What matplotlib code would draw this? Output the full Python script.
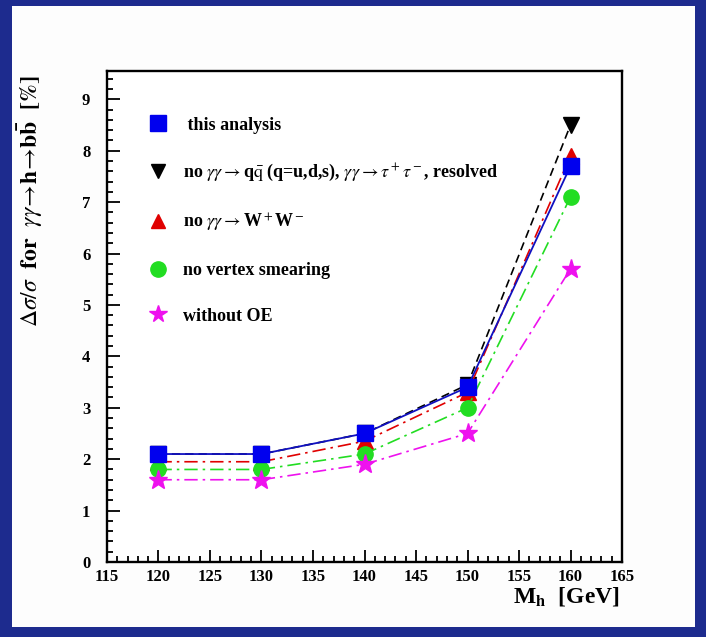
import matplotlib
matplotlib.use("Agg")
import matplotlib.pyplot as plt
from matplotlib.lines import Line2D
from matplotlib.patches import Rectangle
from matplotlib.ticker import MultipleLocator

plt.rcParams['font.family'] = ['Liberation Serif', 'DejaVu Serif']
plt.rcParams['mathtext.fontset'] = 'stix'

# Higgs masses [GeV]
mh = [120, 130, 140, 150, 160]

# relative error dsigma/sigma [%] for the five scenarios
this_analysis = [2.1, 2.1, 2.5, 3.4, 7.7]
no_qq_tau = [2.1, 2.1, 2.5, 3.45, 8.5]
no_ww = [1.95, 1.95, 2.35, 3.3, 7.9]
no_vertex = [1.8, 1.8, 2.1, 3.0, 7.1]
without_oe = [1.6, 1.6, 1.9, 2.5, 5.7]

labels = [
    " this analysis",
    r"no $\gamma\gamma\rightarrow$q$\bar{\rm q}$ (q=u,d,s), $\gamma\gamma\rightarrow\tau^+\tau^-$, resolved",
    r"no $\gamma\gamma\rightarrow$W$^+$W$^-$",
    "no vertex smearing",
    "without OE",
]

fig = plt.figure(figsize=(7.06, 6.37), dpi=100)
fig.patch.set_facecolor('#1d2b8e')
# white slide panel
fig.patches.append(Rectangle((12/706, 10/637), (695-12)/706, (631-10)/637,
                             transform=fig.transFigure, facecolor='#fdfdfd',
                             edgecolor='none', zorder=-10))

ax = fig.add_axes([107/706, 75/637, 515/706, 491/637])
ax.set_facecolor('white')

ax.plot(mh, no_qq_tau, color='black', linestyle=(0, (5, 3)), lw=1.2,
        marker='v', markersize=11, zorder=2)
ax.plot(mh, no_ww, color='#e00000', linestyle=(0, (8, 3, 1.5, 3)), lw=1.2,
        marker='^', markersize=11, zorder=3)
ax.plot(mh, no_vertex, color='#22dd22', linestyle=(0, (8, 3, 1.5, 3)), lw=1.2,
        marker='o', markersize=11, zorder=4)
ax.plot(mh, without_oe, color='#ee11ee', linestyle=(0, (8, 3, 1.5, 3)), lw=1.2,
        marker='*', markersize=14, zorder=5)
ax.plot(mh, this_analysis, color='#1010c0', linestyle='-', lw=1.3,
        marker='s', markerfacecolor='#0000ee', markeredgecolor='#0000ee',
        markersize=12, zorder=6)

handles = [
    Line2D([], [], linestyle='None', marker='s', color='#0000ee', markersize=12),
    Line2D([], [], linestyle='None', marker='v', color='black', markersize=10),
    Line2D([], [], linestyle='None', marker='^', color='#e00000', markersize=10),
    Line2D([], [], linestyle='None', marker='o', color='#22dd22', markersize=11),
    Line2D([], [], linestyle='None', marker='*', color='#ee11ee', markersize=13),
]
ax.legend(handles, labels, loc='upper left', bbox_to_anchor=(0.05, 0.94),
          frameon=False, handlelength=1.0, handletextpad=0.9, labelspacing=1.57,
          prop={'family': 'Liberation Serif', 'weight': 'bold', 'size': 13})

ax.set_xlim(115, 165)
ax.set_ylim(0, 9.55)
ax.xaxis.set_major_locator(MultipleLocator(5))
ax.xaxis.set_minor_locator(MultipleLocator(1))
ax.yaxis.set_major_locator(MultipleLocator(1))
ax.yaxis.set_minor_locator(MultipleLocator(0.2))
ax.tick_params(which='both', direction='in', width=1.3)
ax.tick_params(which='major', length=9)
ax.tick_params(which='minor', length=4.5)
ax.tick_params(axis='x', pad=5)
ax.tick_params(axis='y', pad=12)
for lab in ax.get_xticklabels() + ax.get_yticklabels():
    lab.set_fontweight('bold')
    lab.set_fontsize(12)
for sp in ax.spines.values():
    sp.set_linewidth(1.7)

fig.text(620/706, 1 - 596/637, r"M$_\mathbf{h}$  [GeV]", ha='right', va='center',
         fontsize=17, fontweight='bold')
fig.text(30/706, 1 - 75/637,
         r"$\Delta\sigma/\sigma$  $\mathbf{for}$  $\gamma\gamma\!\rightarrow\!\mathbf{h}\!\rightarrow\!\mathbf{b\bar{b}}$  $\mathbf{[\%]}$",
         rotation=90, ha='center', va='top', fontsize=17)

fig.savefig("out.png", dpi=100, facecolor=fig.get_facecolor())
